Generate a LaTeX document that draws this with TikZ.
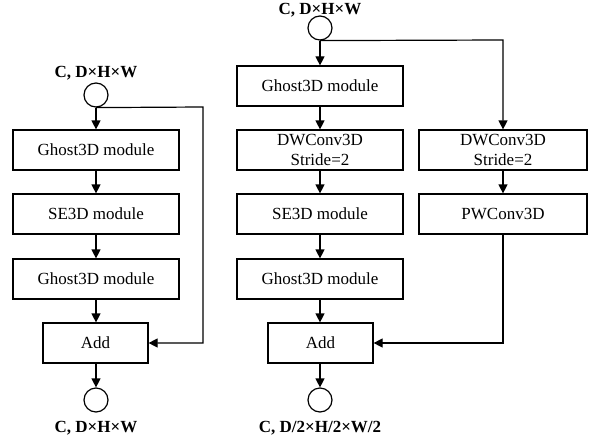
\documentclass[tikz,border=0pt]{standalone}
\usepackage{fontspec}
\setmainfont{Liberation Serif}
\usetikzlibrary{arrows.meta}
\begin{document}
\begin{tikzpicture}[x=1pt,y=-1pt,
  every node/.style={font=\fontsize{17}{20}\selectfont},
  blk/.style={draw,line width=1.2pt,minimum width=166pt,minimum height=40pt,inner sep=0pt,align=center},
  addblk/.style={blk,minimum width=105pt},
  io/.style={draw,circle,line width=1.2pt,minimum size=24pt,inner sep=0pt},
  lab/.style={font=\fontsize{17}{20}\selectfont\bfseries,inner sep=0pt},
  arr/.style={line width=1.2pt,-{Triangle[length=9pt,width=9pt]}},
  ln/.style={line width=1.2pt}]
\useasboundingbox (0,0) rectangle (593,441);
% left
\node[lab] (labL1) at (96,73) {C, D×H×W};
\node[io] (cL1) at (96,95) {};
\node[blk] (gL1) at (96,150) {Ghost3D module};
\node[blk] (seL) at (96,214) {SE3D module};
\node[blk] (gL2) at (96,279) {Ghost3D module};
\node[addblk] (addL) at (95.5,343) {Add};
\node[io] (cL2) at (96,400) {};
\node[lab] (labL2) at (96,428) {C, D×H×W};
\coordinate (kL) at (203,107);
\draw[arr] (cL1) -- (gL1);
\draw[arr] (gL1) -- (seL);
\draw[arr] (seL) -- (gL2);
\draw[arr] (gL2) -- (addL.north -| gL2);
\draw[arr] (addL.south -| cL2) -- (cL2);
\draw[arr] (cL1.south) -- (kL) |- (addL.east);
% right
\node[lab] (labR1) at (320,10) {C, D×H×W};
\node[io] (cR1) at (320,28) {};
\node[blk] (gR1) at (320,86) {Ghost3D module};
\node[blk] (dwR) at (320,150) {DWConv3D\\Stride=2};
\node[blk] (seR) at (320,214) {SE3D module};
\node[blk] (gR2) at (320,279) {Ghost3D module};
\node[addblk] (addR) at (320.5,343) {Add};
\node[io] (cR2) at (320,400) {};
\node[lab] (labR2) at (320,428) {C, D/2×H/2×W/2};
\node[blk,minimum width=168pt] (dwB) at (503,150) {DWConv3D\\Stride=2};
\node[blk,minimum width=168pt] (pwB) at (503,214) {PWConv3D};
\coordinate (kR) at (503,40);
\draw[arr] (cR1) -- (gR1);
\draw[arr] (gR1) -- (dwR);
\draw[arr] (dwR) -- (seR);
\draw[arr] (seR) -- (gR2);
\draw[arr] (gR2) -- (addR.north -| gR2);
\draw[arr] (addR.south -| cR2) -- (cR2);
\draw[arr] (cR1.south) -- (kR) -- (dwB);
\draw[arr] (dwB) -- (pwB);
\draw[arr] (pwB) |- (addR.east);
\end{tikzpicture}
\end{document}
